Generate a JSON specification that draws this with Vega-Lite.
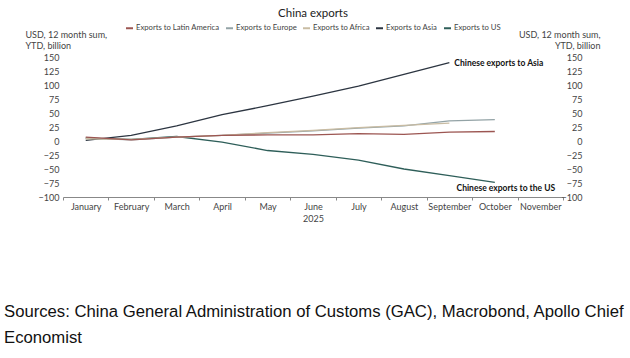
{
  "$schema": "https://vega.github.io/schema/vega-lite/v6.json",
  "width": 500,
  "height": 140,
  "autosize": "none",
  "padding": {"left": 63, "top": 57, "right": 67, "bottom": 161},
  "background": "white",
  "config": {"view": {"stroke": null}, "font": "Lato"},
  "title": {
    "text": ["Sources: China General Administration of Customs (GAC), Macrobond, Apollo Chief", "Economist"],
    "orient": "bottom",
    "anchor": "start",
    "frame": "group",
    "dx": -59,
    "offset": 81,
    "font": "Liberation Sans",
    "fontSize": 16.7,
    "fontWeight": "normal",
    "lineHeight": 26,
    "color": "#111"
  },
  "datasets": {
    "series": [
      {"month": "January", "series": "Exports to Asia", "value": 1},
      {"month": "February", "series": "Exports to Asia", "value": 10},
      {"month": "March", "series": "Exports to Asia", "value": 27},
      {"month": "April", "series": "Exports to Asia", "value": 47},
      {"month": "May", "series": "Exports to Asia", "value": 63},
      {"month": "June", "series": "Exports to Asia", "value": 80},
      {"month": "July", "series": "Exports to Asia", "value": 98},
      {"month": "August", "series": "Exports to Asia", "value": 119},
      {"month": "September", "series": "Exports to Asia", "value": 140},
      {"month": "January", "series": "Exports to US", "value": 5},
      {"month": "February", "series": "Exports to US", "value": 3},
      {"month": "March", "series": "Exports to US", "value": 8},
      {"month": "April", "series": "Exports to US", "value": -2},
      {"month": "May", "series": "Exports to US", "value": -17},
      {"month": "June", "series": "Exports to US", "value": -24},
      {"month": "July", "series": "Exports to US", "value": -34},
      {"month": "August", "series": "Exports to US", "value": -50},
      {"month": "September", "series": "Exports to US", "value": -62},
      {"month": "October", "series": "Exports to US", "value": -74},
      {"month": "January", "series": "Exports to Europe", "value": 5},
      {"month": "February", "series": "Exports to Europe", "value": 2},
      {"month": "March", "series": "Exports to Europe", "value": 7},
      {"month": "April", "series": "Exports to Europe", "value": 10},
      {"month": "May", "series": "Exports to Europe", "value": 14},
      {"month": "June", "series": "Exports to Europe", "value": 18},
      {"month": "July", "series": "Exports to Europe", "value": 23},
      {"month": "August", "series": "Exports to Europe", "value": 27},
      {"month": "September", "series": "Exports to Europe", "value": 36},
      {"month": "October", "series": "Exports to Europe", "value": 38},
      {"month": "January", "series": "Exports to Africa", "value": 4},
      {"month": "February", "series": "Exports to Africa", "value": 3},
      {"month": "March", "series": "Exports to Africa", "value": 7},
      {"month": "April", "series": "Exports to Africa", "value": 10},
      {"month": "May", "series": "Exports to Africa", "value": 15},
      {"month": "June", "series": "Exports to Africa", "value": 19},
      {"month": "July", "series": "Exports to Africa", "value": 24},
      {"month": "August", "series": "Exports to Africa", "value": 28},
      {"month": "September", "series": "Exports to Africa", "value": 32},
      {"month": "January", "series": "Exports to Latin America", "value": 7},
      {"month": "February", "series": "Exports to Latin America", "value": 2},
      {"month": "March", "series": "Exports to Latin America", "value": 7},
      {"month": "April", "series": "Exports to Latin America", "value": 10},
      {"month": "May", "series": "Exports to Latin America", "value": 11},
      {"month": "June", "series": "Exports to Latin America", "value": 11},
      {"month": "July", "series": "Exports to Latin America", "value": 13},
      {"month": "August", "series": "Exports to Latin America", "value": 12},
      {"month": "September", "series": "Exports to Latin America", "value": 16},
      {"month": "October", "series": "Exports to Latin America", "value": 17}
    ],
    "asia": [
      {"month": "September", "value": 140, "label": "Chinese exports to Asia"}
    ],
    "us": [
      {"month": "October", "value": -74, "label": "Chinese exports to the US"}
    ]
  },
  "resolve": {"scale": {"y": "shared"}, "axis": {"y": "independent"}},
  "layer": [
    {
      "data": {"name": "series"},
      "mark": {"type": "line", "strokeWidth": 1.3},
      "encoding": {
        "x": {
          "field": "month", "type": "ordinal", "bandPosition": 0.5,
          "sort": ["January","February","March","April","May","June","July","August","September","October","November"],
          "scale": {"type": "band", "domain": ["January","February","March","April","May","June","July","August","September","October","November"], "paddingInner": 0, "paddingOuter": 0},
          "axis": {
            "title": "2025", "titleFontSize": 9, "titleFontWeight": "normal", "titleColor": "#444", "titleY": 17, "titleX": 250,
            "labelAngle": 0, "labelFontSize": 9, "labelColor": "#444", "labelPadding": 2,
            "tickBand": "extent", "tickSize": 3, "tickColor": "#888", "domainColor": "#888", "grid": false
          }
        },
        "y": {
          "field": "value", "type": "quantitative",
          "scale": {"domain": [-100, 150], "nice": false, "zero": false},
          "axis": {
            "orient": "left", "values": [-100,-75,-50,-25,0,25,50,75,100,125,150],
            "title": ["USD, 12 month sum,", "YTD, billion"], "titleAngle": 0, "titleAlign": "left", "titleBaseline": "middle",
            "titleX": -38, "titleY": -23, "titleFontSize": 9, "titleFontWeight": "normal", "titleColor": "#444", "titleLineHeight": 11,
            "domain": false, "ticks": false, "grid": false, "labelFontSize": 9, "labelColor": "#444", "labelPadding": 4
          }
        },
        "color": {
          "field": "series", "type": "nominal",
          "scale": {
            "domain": ["Exports to Latin America", "Exports to Europe", "Exports to Africa", "Exports to Asia", "Exports to US"],
            "range": ["#9c5652", "#93a3a6", "#c9bca3", "#2c3541", "#2e5e59"]
          },
          "legend": {
            "title": "China exports", "orient": "none", "direction": "horizontal",
            "legendX": 62, "legendY": -49, "titleAnchor": "middle", "titleFontSize": 11.5, "titleFontWeight": "normal", "titleColor": "#222", "titlePadding": 4,
            "symbolType": "stroke", "symbolStrokeWidth": 2, "symbolSize": 49, "labelFontSize": 7.7, "labelColor": "#444", "labelOffset": 2, "columnPadding": 2
          }
        }
      }
    },
    {
      "data": {"name": "asia"},
      "mark": {"type": "text", "fontWeight": "bold", "fontSize": 8.5, "color": "#111", "baseline": "middle", "align": "left", "dx": 5, "dy": 0},
      "encoding": {
        "x": {"field": "month", "type": "ordinal", "bandPosition": 0.5},
        "y": {
          "field": "value", "type": "quantitative",
          "axis": {
            "orient": "right", "values": [-100,-75,-50,-25,0,25,50,75,100,125,150],
            "title": ["USD, 12 month sum,", "YTD, billion"], "titleAngle": 0, "titleAlign": "right", "titleBaseline": "middle",
            "titleX": 37, "titleY": -23, "titleFontSize": 9, "titleFontWeight": "normal", "titleColor": "#444", "titleLineHeight": 11,
            "domain": false, "ticks": false, "grid": false, "labelFontSize": 9, "labelColor": "#444", "labelAlign": "right", "labelPadding": 19
          }
        },
        "text": {"field": "label"}
      }
    },
    {
      "data": {"name": "us"},
      "mark": {"type": "text", "fontWeight": "bold", "fontSize": 8.5, "color": "#111", "baseline": "middle", "align": "center", "dx": 11, "dy": 6},
      "encoding": {
        "x": {"field": "month", "type": "ordinal", "bandPosition": 0.5},
        "y": {"field": "value", "type": "quantitative", "axis": null},
        "text": {"field": "label"}
      }
    }
  ]
}
